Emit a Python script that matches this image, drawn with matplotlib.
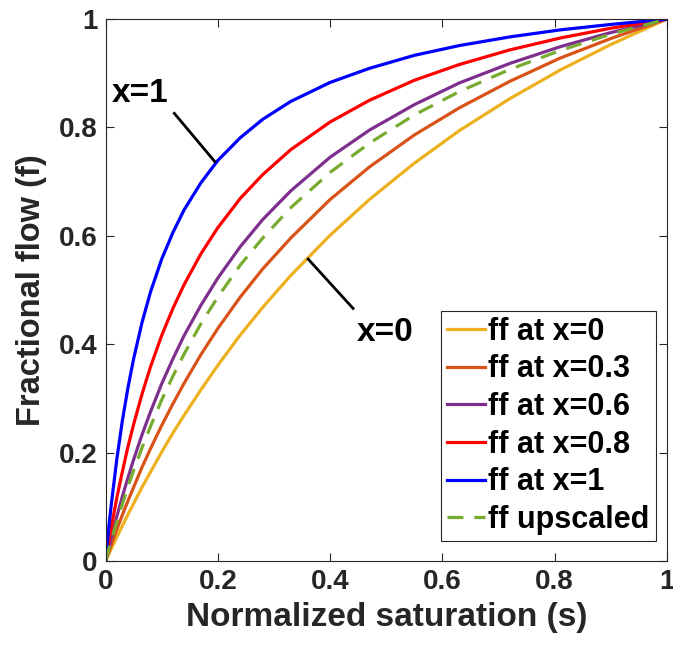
import matplotlib
matplotlib.use("Agg")
import matplotlib.pyplot as plt

# saturation points and fractional flow values for each curve
s = [0, 0.005, 0.01, 0.02, 0.03, 0.04, 0.05, 0.065, 0.08, 0.1, 0.12, 0.14,
     0.17, 0.2, 0.24, 0.28, 0.33, 0.4, 0.47, 0.55, 0.63, 0.72, 0.81, 0.9,
     1.0]

ff_x0 = [0, 0.011, 0.022, 0.044, 0.065, 0.086, 0.106, 0.136, 0.164, 0.201,
         0.236, 0.269, 0.316, 0.361, 0.417, 0.468, 0.527, 0.601, 0.667,
         0.734, 0.794, 0.853, 0.906, 0.953, 1.0]
ff_x03 = [0, 0.015, 0.029, 0.058, 0.085, 0.111, 0.136, 0.173, 0.207, 0.250,
          0.290, 0.328, 0.381, 0.429, 0.487, 0.539, 0.596, 0.667, 0.727,
          0.786, 0.836, 0.885, 0.928, 0.964, 1.0]
ff_x06 = [0, 0.022, 0.042, 0.082, 0.119, 0.154, 0.187, 0.233, 0.275, 0.327,
          0.373, 0.416, 0.472, 0.522, 0.580, 0.630, 0.683, 0.745, 0.795,
          0.842, 0.882, 0.918, 0.949, 0.975, 1.0]
ff_x08 = [0, 0.031, 0.061, 0.116, 0.165, 0.211, 0.252, 0.308, 0.358, 0.416,
          0.466, 0.510, 0.567, 0.615, 0.669, 0.713, 0.759, 0.810, 0.850,
          0.887, 0.916, 0.943, 0.965, 0.983, 1.0]
ff_x1 = [0, 0.054, 0.102, 0.187, 0.259, 0.320, 0.373, 0.440, 0.496, 0.557,
         0.606, 0.648, 0.698, 0.739, 0.781, 0.815, 0.848, 0.883, 0.909,
         0.933, 0.951, 0.967, 0.980, 0.990, 1.0]
ff_up = [0, 0.019, 0.037, 0.072, 0.105, 0.137, 0.167, 0.209, 0.248, 0.297,
         0.341, 0.382, 0.438, 0.487, 0.546, 0.596, 0.652, 0.717, 0.771,
         0.823, 0.866, 0.907, 0.942, 0.972, 1.0]

ticks = [0, 0.2, 0.4, 0.6, 0.8, 1]
tick_labels = ["0", "0.2", "0.4", "0.6", "0.8", "1"]

plt.rcParams["font.family"] = ["Liberation Sans", "DejaVu Sans"]
plt.rcParams["font.weight"] = "bold"

fig = plt.figure(figsize=(6.73, 6.54), dpi=100)
ax = fig.add_axes([0.1568, 0.1422, 0.8342, 0.8287])

lw = 2.3
ax.plot(s, ff_x0, color="#EDB120", lw=lw, label="ff at x=0")
ax.plot(s, ff_x03, color="#D95319", lw=lw, label="ff at x=0.3")
ax.plot(s, ff_x06, color="#7E2F8E", lw=lw, label="ff at x=0.6")
ax.plot(s, ff_x08, color="#FF0000", lw=lw, label="ff at x=0.8")
ax.plot(s, ff_x1, color="#0000FF", lw=lw, label="ff at x=1")
ax.plot(s, ff_up, color="#77AC30", lw=lw, ls=(0, (5, 3.4)),
        label="ff upscaled")

# leader lines for the two end members
ax.plot([0.1225, 0.1946], [0.826, 0.737], color="black", lw=2)
ax.plot([0.361, 0.441], [0.557, 0.466], color="black", lw=2)
ax.text(0.061, 0.862, "x=1", fontsize=24, fontweight="bold",
        ha="center", va="center")
ax.text(0.498, 0.421, "x=0", fontsize=24, fontweight="bold",
        ha="center", va="center")

ax.set_xlim(0, 1)
ax.set_ylim(0, 1)
ax.set_xticks(ticks)
ax.set_xticklabels(tick_labels)
ax.set_yticks(ticks)
ax.set_yticklabels(tick_labels)
ax.tick_params(direction="in", length=6, width=0.8, color="#262626",
               labelsize=20, labelcolor="#262626", top=True, right=True,
               pad=6)
for sp in ax.spines.values():
    sp.set_color("#262626")
    sp.set_linewidth(0.8)

ax.set_xlabel("Normalized saturation (s)", fontsize=24, fontweight="bold",
              color="#262626", labelpad=5)
ax.set_ylabel("Fractional flow (f)", fontsize=23.5, fontweight="bold",
              color="#262626", labelpad=8)

leg = ax.legend(loc="lower right", bbox_to_anchor=(0.980, 0.037),
                borderaxespad=0, fontsize=22, handlelength=1.25,
                handletextpad=0.1, labelspacing=0.25, borderpad=0.2,
                fancybox=False, framealpha=1)
leg.get_frame().set_edgecolor("#262626")
leg.get_frame().set_linewidth(0.8)

fig.savefig("out.png", dpi=100)
